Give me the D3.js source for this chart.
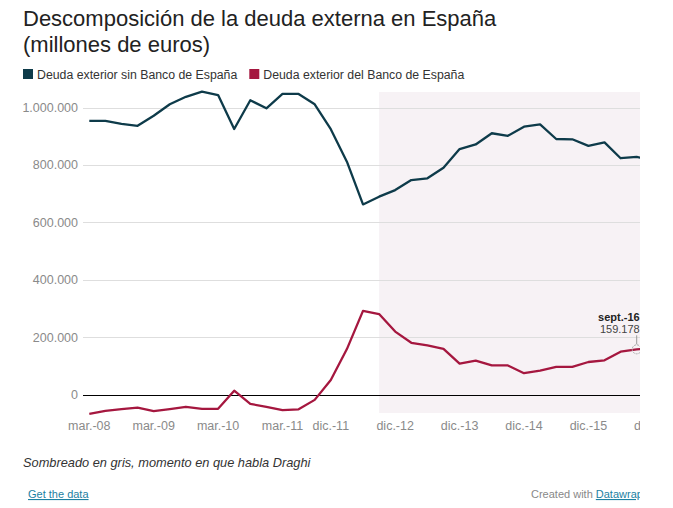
<!DOCTYPE html>
<html><head><meta charset="utf-8">
<script src="https://cdn.jsdelivr.net/npm/d3@7"></script>
<style>
body{margin:0;background:#fff;font-family:"Liberation Sans",Arial,Helvetica,sans-serif;}
</style></head>
<body>
<svg id="c" width="673" height="508"></svg>
<script>
const quarters = ["mar.-08","jun.-08","sept.-08","dic.-08","mar.-09","jun.-09","sept.-09","dic.-09",
 "mar.-10","jun.-10","sept.-10","dic.-10","mar.-11","jun.-11","sept.-11","dic.-11",
 "mar.-12","jun.-12","sept.-12","dic.-12","mar.-13","jun.-13","sept.-13","dic.-13",
 "mar.-14","jun.-14","sept.-14","dic.-14","mar.-15","jun.-15","sept.-15","dic.-15",
 "mar.-16","jun.-16","sept.-16","dic.-16"];
const sinBde = [955000,955000,945000,938000,973000,1013000,1039000,1057000,
 1045000,927000,1027000,999000,1049000,1049000,1013000,926000,
 813000,664000,691000,714000,749000,755000,792000,857000,
 873000,912000,903000,935000,943000,892000,891000,868000,
 880000,825000,830000,815000];
const delBde = [-66000,-55000,-49000,-44000,-56000,-49000,-41000,-48000,
 -48000,15000,-31000,-41000,-53000,-50000,-17000,52000,
 160000,293000,282000,221000,182000,173000,161000,109000,
 120000,103000,103000,76000,85000,98000,98000,115000,
 121000,151000,159178,162000];
const yTicks = [0,200000,400000,600000,800000,1000000];
const xTickLabels = ["mar.-08","mar.-09","mar.-10","mar.-11","dic.-11","dic.-12","dic.-13","dic.-14","dic.-15","dic.-16"];
const shadeStart = "sept.-12";
const highlight = "sept.-16";
const seriesNames = ["Deuda exterior sin Banco de España","Deuda exterior del Banco de España"];
const colors = ["#0e3b4a","#a5173f"];

const svg = d3.select("#c");
const clipW = 640;
svg.append("defs").append("clipPath").attr("id","clip")
  .append("rect").attr("x",0).attr("y",0).attr("width",clipW).attr("height",508);
const g = svg.append("g").attr("clip-path","url(#clip)");

// title
g.append("text").attr("x",23).attr("y",26).attr("font-size",22).attr("fill","#222")
 .text("Descomposición de la deuda externa en España");
g.append("text").attr("x",23).attr("y",52).attr("font-size",22).attr("fill","#222")
 .text("(millones de euros)");

// legend
const leg = g.append("g");
let lx = 23;
seriesNames.forEach((n,i)=>{
  leg.append("rect").attr("x",lx).attr("y",69).attr("width",10).attr("height",10).attr("fill",colors[i]);
  const t = leg.append("text").attr("x",lx+14).attr("y",78.5).attr("font-size",12.3).attr("fill","#333").text(n);
  lx += 14 + t.node().getComputedTextLength() + 12;
});

const x = d3.scalePoint().domain(quarters).range([89.3, 89.3+35*16.1]);
const y = d3.scaleLinear().domain([0,1000000]).range([395,108]);

// shading
g.append("rect").attr("x",x(shadeStart)).attr("y",92)
 .attr("width",x("dic.-16")+20-x(shadeStart)).attr("height",321).attr("fill","#f7f2f5");

// grid
const fmt = d3.formatLocale({decimal:",",thousands:".",grouping:[3],currency:["","€"]}).format(",.0f");
g.append("g").selectAll("line").data(yTicks.filter(d=>d!==0)).join("line")
 .attr("x1",83).attr("x2",700).attr("y1",d=>y(d)).attr("y2",d=>y(d))
 .attr("stroke","#dedede").attr("stroke-width",1).attr("shape-rendering","crispEdges");
g.append("g").selectAll("text").data(yTicks).join("text")
 .attr("x",78).attr("y",d=>y(d)+4).attr("text-anchor","end").attr("font-size",12.5).attr("fill","#8a8a8a")
 .text(d=>fmt(d));
g.append("line").attr("x1",83).attr("x2",700).attr("y1",y(0)).attr("y2",y(0))
 .attr("stroke","#000").attr("stroke-width",1).attr("shape-rendering","crispEdges");

// x labels
g.append("g").selectAll("text").data(xTickLabels).join("text")
 .attr("x",d=>x(d)).attr("y",430).attr("text-anchor","middle").attr("font-size",12.5).attr("fill","#8a8a8a")
 .text(d=>d);

// lines
const line = d3.line().x((d,i)=>x(quarters[i])).y(d=>y(d));
[sinBde,delBde].forEach((s,i)=>{
  g.append("path").datum(s).attr("d",line).attr("fill","none")
   .attr("stroke",colors[i]).attr("stroke-width",2.3).attr("stroke-linejoin","round");
});

// highlight
const hi = quarters.indexOf(highlight);
const hx = x(highlight), hy = y(delBde[hi]);
g.append("line").attr("x1",hx).attr("x2",hx).attr("y1",hy-5).attr("y2",hy-14).attr("stroke","#999").attr("stroke-width",1);
g.append("circle").attr("cx",hx).attr("cy",hy).attr("r",4.5).attr("fill","none").attr("stroke","#aaa").attr("stroke-width",1).attr("stroke-dasharray","2,1");
g.append("text").attr("x",hx+3).attr("y",hy-28).attr("text-anchor","end").attr("font-size",11).attr("font-weight","bold").attr("fill","#222").text(highlight);
g.append("text").attr("x",hx+3).attr("y",hy-16).attr("text-anchor","end").attr("font-size",11).attr("fill","#444").text(d3.format(",")(delBde[hi]).replace(/,/g,"."));

// footer
g.append("text").attr("x",23).attr("y",467).attr("font-size",12.8).attr("font-style","italic").attr("fill","#333")
 .text("Sombreado en gris, momento en que habla Draghi");
g.append("text").attr("x",28).attr("y",498).attr("font-size",11).attr("fill","#1d81a2")
 .attr("text-decoration","underline").text("Get the data");
const cw = g.append("text").attr("x",531).attr("y",498).attr("font-size",11).attr("fill","#888");
cw.append("tspan").text("Created with ");
cw.append("tspan").attr("fill","#1d81a2").attr("text-decoration","underline").text("Datawrapper");
</script>
</body></html>
